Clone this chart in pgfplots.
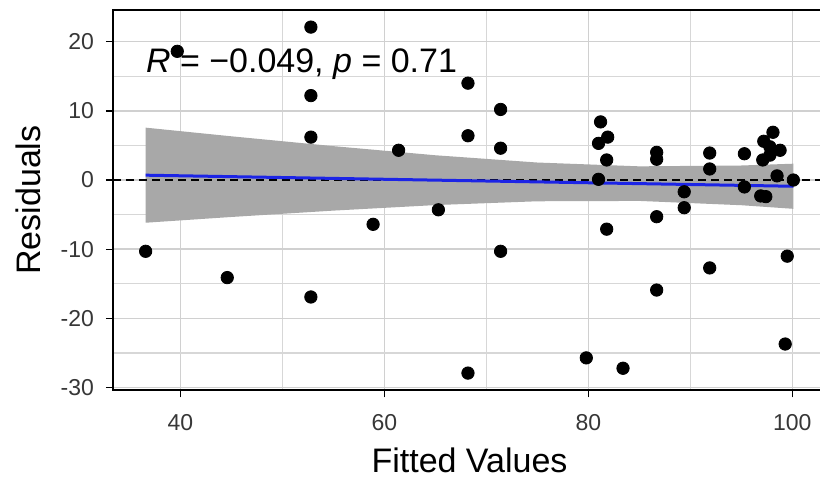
\documentclass[border=0pt]{standalone}
\usepackage{pgfplots}
\pgfplotsset{compat=1.18}
\usepackage{fontspec}
\setmainfont{Liberation Sans}
\definecolor{bandgray}{RGB}{168,168,168}
\definecolor{fitblue}{RGB}{28,36,230}
\definecolor{gridgray}{RGB}{208,208,208}
\definecolor{ticklab}{RGB}{55,55,55}

\pgfplotstableread{
x y
36.6 -10.3
39.7 18.6
44.6 -14.1
52.8 22.1
52.8 12.2
52.8 6.2
52.8 -16.9
58.9 -6.4
61.4 4.3
65.3 -4.3
68.2 14.0
68.2 6.4
68.2 -27.9
71.4 10.2
71.4 4.6
71.4 -10.3
79.8 -25.7
81.0 0.1
81.0 5.3
81.9 6.2
81.2 8.4
81.8 2.9
81.8 -7.1
83.4 -27.2
86.7 4.0
86.7 3.0
86.7 -5.3
86.7 -15.9
89.4 -1.7
89.4 -4.0
91.9 3.9
91.9 1.6
91.9 -12.7
95.3 3.8
95.3 -1.0
96.9 -2.3
97.4 -2.4
97.1 2.9
97.2 5.6
97.8 4.8
97.8 3.6
98.1 6.9
98.8 4.3
98.5 0.6
99.5 -11.0
99.3 -23.7
100.1 0.0
}\resid

\begin{document}
\begin{tikzpicture}
\begin{axis}[
  name=ax,
  scale only axis,
  width=356.5pt, height=190.3pt,
  xmin=33.4, xmax=103.3, ymin=-30.4, ymax=24.6,
  xtick={40,60,80,100}, ytick={-30,-20,-10,0,10,20},
  minor xtick={30,50,70,90}, minor ytick={-25,-15,-5,5,15},
  grid=both,
  major grid style={gridgray, line width=0.8pt},
  minor grid style={gridgray!85, line width=0.55pt},
  tick align=outside, major tick length=3.5pt, minor tick length=0pt,
  tick pos=left,
  tick style={black, line width=0.7pt},
  axis line style={black, line width=1.1pt},
  /pgf/number format/assume math mode=true,
  ticklabel style={font=\fontsize{11.5}{13}\selectfont, text=ticklab},
  xticklabel style={yshift=-5pt},
  yticklabel style={xshift=-2.5pt},
  xlabel={Fitted Values}, ylabel={Residuals},
  label style={font=\fontsize{17}{20}\selectfont},
  xlabel style={at={(axis description cs:0.5,0)}, anchor=base, yshift=-41.3pt},
  ylabel style={at={(axis description cs:-0.1192,0.5)}, anchor=center},
  clip=true,
]
\addplot[draw=none, fill=bandgray] coordinates {
 (36.6,7.57) (45,6.32) (55,4.90) (65,3.58) (75,2.53) (85,1.98) (95,2.10) (100.1,2.36)
 (100.1,-4.16) (95,-3.64) (85,-3.02) (75,-3.07) (65,-3.62) (55,-4.42) (45,-5.34) (36.6,-6.17)
} -- cycle;
\addplot[black, line width=0.9pt, dash pattern=on 4pt off 2.5pt] coordinates {(33.4,0) (103.3,0)};
\addplot[fitblue, line width=1.5pt] coordinates {(36.6,0.70) (100.1,-0.90)};
\addplot[only marks, mark=*, mark size=3.1pt, black] table[x=x, y=y] {\resid};
\node[anchor=base west, inner sep=0pt, font=\fontsize{17}{20}\selectfont] at (axis cs:36.6,15.6) {\textit{R} = −0.049, \textit{p} = 0.71};
\end{axis}
\pgfresetboundingbox
\path[use as bounding box] ([shift={(-56.5pt,-45.3pt)}]ax.south west) rectangle ([shift={(353.5pt,195.2pt)}]ax.south west);
\end{tikzpicture}
\end{document}
